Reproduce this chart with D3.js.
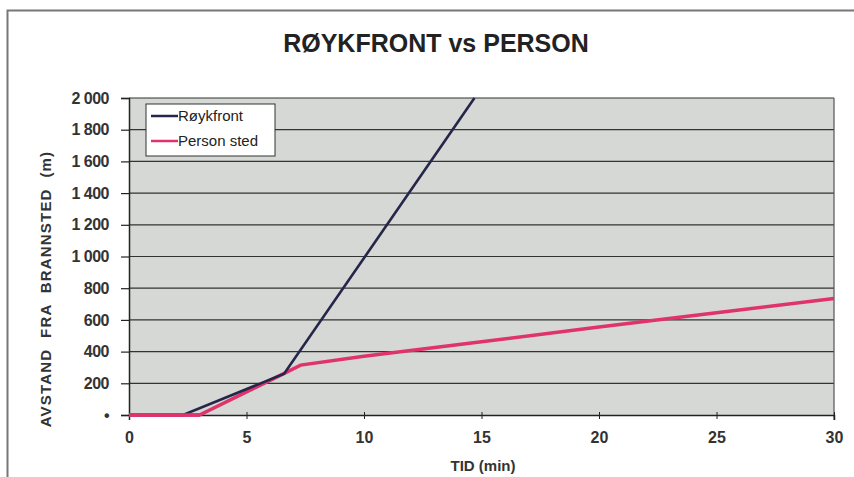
<!DOCTYPE html>
<html><head><meta charset="utf-8">
<script src="https://cdn.jsdelivr.net/npm/d3@7"></script>
<style>body{margin:0;background:#fff}svg{display:block}</style>
</head><body>
<svg id="c" width="854" height="477"></svg>
<script>
const title = "RØYKFRONT vs PERSON";
const xLabel = "TID (min)";
const yLabel = "AVSTAND  FRA  BRANNSTED  (m)";
const seriesNames = ["Røykfront", "Person sted"];
const roykT = [0, 2.3, 6.6, 14.7];
const roykD = [0, 0, 260, 2000];
const personT = [0, 3.0, 6.5, 7.3, 10, 15, 20, 25, 30];
const personD = [0, 0, 255, 315, 370, 462, 555, 645, 735];
const xTicks = [0, 5, 10, 15, 20, 25, 30];
const yTicks = [0, 200, 400, 600, 800, 1000, 1200, 1400, 1600, 1800, 2000];
const yTickLabels = ["•", "200", "400", "600", "800", "1 000", "1 200", "1 400", "1 600", "1 800", "2 000"];

const svg = d3.select("#c");
const L = 129, R = 834, T = 98, B = 415;
const x = d3.scaleLinear().domain([0, 30]).range([L, R]);
const y = d3.scaleLinear().domain([0, 2000]).range([B, T]);
const FONT = "Liberation Sans, Arial, sans-serif";

// outer frame
svg.append("path").attr("d", "M7.5,477 V10.5 H854").attr("fill", "none")
  .attr("stroke", "#777").attr("stroke-width", 2);

// plot background
svg.append("rect").attr("x", L).attr("y", T).attr("width", R - L).attr("height", B - T)
  .attr("fill", "#d5d8d4");

// gridlines
svg.append("g").selectAll("line").data(yTicks.slice(1)).join("line")
  .attr("x1", L).attr("x2", R).attr("y1", d => y(d)).attr("y2", d => y(d))
  .attr("stroke", "#333").attr("stroke-width", 1.2);

// right border
svg.append("line").attr("x1", R).attr("x2", R).attr("y1", T).attr("y2", B + 5)
  .attr("stroke", "#555").attr("stroke-width", 1.2);

// y axis
const ya = svg.append("g").attr("transform", `translate(${L},0)`)
  .call(d3.axisLeft(y).tickValues(yTicks).tickSize(8).tickFormat((d, i) => yTickLabels[i]));
ya.select(".domain").attr("stroke", "#222").attr("stroke-width", 1.5);
ya.selectAll(".tick line").attr("stroke", "#222").attr("stroke-width", 1.2);
ya.selectAll(".tick text").attr("font-family", FONT)
  .attr("font-size", 16).attr("font-weight", "bold").attr("fill", "#333").attr("x", -20)
  .attr("letter-spacing", "-0.5px");

// x axis
const xa = svg.append("g").attr("transform", `translate(0,${B})`)
  .call(d3.axisBottom(x).tickValues(xTicks).tickSize(5));
xa.select(".domain").attr("stroke", "#222").attr("stroke-width", 1.5);
xa.selectAll(".tick line").attr("stroke", "#222").attr("y1", -3).attr("y2", 4);
xa.selectAll(".tick text").attr("font-family", FONT)
  .attr("font-size", 16).attr("font-weight", "bold").attr("fill", "#333").attr("y", 17);

// lines
const line = d3.line().x(d => x(d[0])).y(d => y(d[1]));
svg.append("path").datum(personT.map((t, i) => [t, personD[i]]))
  .attr("d", line).attr("fill", "none").attr("stroke", "#e0336c").attr("stroke-width", 3.5);
svg.append("path").datum(roykT.map((t, i) => [t, roykD[i]]))
  .attr("d", line).attr("fill", "none").attr("stroke", "#24264a").attr("stroke-width", 2.6);
svg.append("path").datum(personT.slice(0, 2).map((t, i) => [t, personD[i]]))
  .attr("d", line).attr("fill", "none").attr("stroke", "#e0336c").attr("stroke-width", 3.5);

// legend
const lg = svg.append("g").attr("transform", "translate(146,104)");
lg.append("rect").attr("width", 129).attr("height", 52).attr("fill", "#fff")
  .attr("stroke", "#333").attr("stroke-width", 1);
const colors = ["#24264a", "#e0336c"];
seriesNames.forEach((n, i) => {
  lg.append("line").attr("x1", 5).attr("x2", 32).attr("y1", 12 + i * 25).attr("y2", 12 + i * 25)
    .attr("stroke", colors[i]).attr("stroke-width", 2.5);
  lg.append("text").attr("x", 32).attr("y", 17 + i * 25).text(n)
    .attr("font-family", FONT).attr("font-size", 15).attr("fill", "#222");
});

// title
svg.append("text").attr("x", 436).attr("y", 52).attr("text-anchor", "middle").text(title)
  .attr("font-family", FONT).attr("font-size", 25)
  .attr("font-weight", "bold").attr("fill", "#222");

// x label
svg.append("text").attr("x", 483).attr("y", 471).attr("text-anchor", "middle").text(xLabel)
  .attr("font-family", FONT).attr("font-size", 15)
  .attr("font-weight", "bold").attr("fill", "#333");

// y label
svg.append("text").attr("transform", "translate(51,289) rotate(-90)").attr("text-anchor", "middle")
  .text(yLabel).style("white-space", "pre").attr("letter-spacing", "1.2px")
  .attr("font-family", FONT).attr("font-size", 15)
  .attr("font-weight", "bold").attr("fill", "#333");
</script>
</body></html>
